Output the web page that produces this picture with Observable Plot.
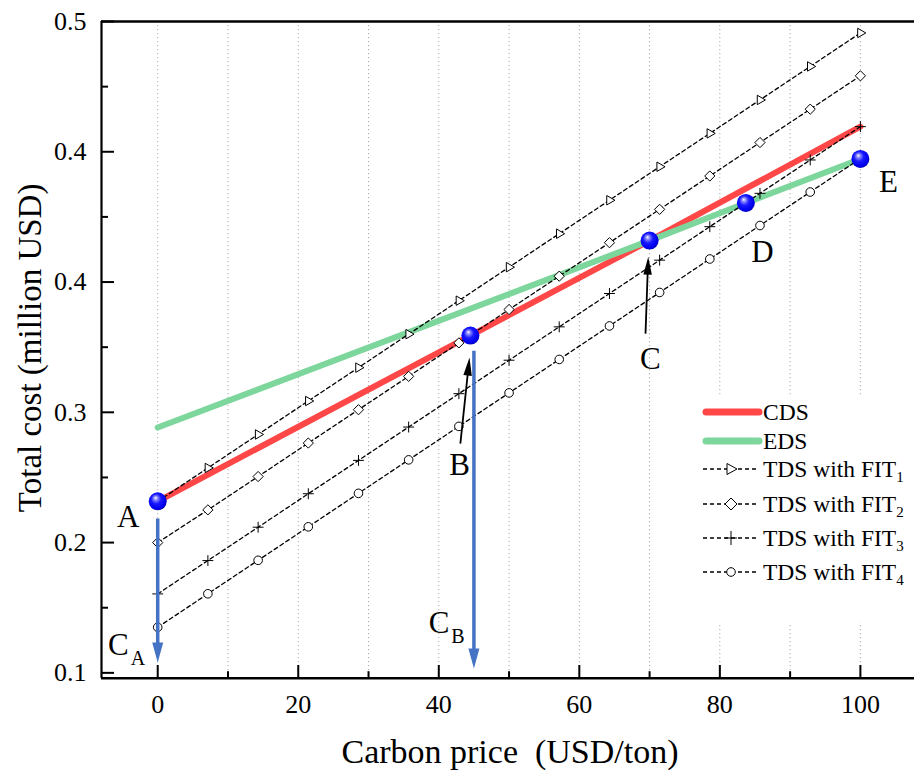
<!DOCTYPE html>
<html>
<head>
<meta charset="utf-8">
<script src="https://cdn.jsdelivr.net/npm/d3@7"></script>
<script src="https://cdn.jsdelivr.net/npm/@observablehq/plot@0.6"></script>
<style>
  html, body { margin: 0; padding: 0; background: #fff; }
  #wrap { position: relative; width: 914px; height: 773px; font-family: "Liberation Serif", "Times New Roman", serif; }
  #legend { position: absolute; left: 695px; top: 396px; width: 216px; height: 226px; background: #fff; }
  .row { position: absolute; left: 0; height: 30px; width: 216px; }
  .row svg { position: absolute; left: 4px; top: 0; }
  .row span { position: absolute; left: 68px; top: 0; line-height: 30px; font-size: 23.5px; color: #000; white-space: nowrap; font-family: "Liberation Serif", serif; }
  .row sub { font-size: 15px; vertical-align: -5px; line-height: 0; }
</style>
</head>
<body>
<div id="wrap"></div>
<script>
// ---------- data ----------
const xTickValues = [0, 20, 40, 60, 80, 100];
const xMinorTicks = [10, 30, 50, 70, 90];
const gridValues = [0, 10, 20, 30, 40, 50, 60, 70, 80, 90, 100];
const yTickValues = [0.1, 0.2, 0.3, 0.4, 0.5, 0.6];
const yTickLabels = ["0.1", "0.2", "0.3", "0.4", "0.4", "0.5"];
const yMinorTicks = [0.15, 0.25, 0.35, 0.45, 0.55];

const cdsX = [0, 44.5, 70, 100];
const cdsY = [0.2317, 0.3589, 0.4318, 0.5193];
const edsX = [0, 70, 83.7, 100];
const edsY = [0.2883, 0.4318, 0.4607, 0.4945];

const tdsX = [0, 7.14, 14.29, 21.43, 28.57, 35.71, 42.86, 50, 57.14, 64.29, 71.43, 78.57, 85.71, 92.86, 100];
const fit1 = [0.2316, 0.2573, 0.2830, 0.3087, 0.3343, 0.3600, 0.3857, 0.4114, 0.4371, 0.4628, 0.4885, 0.5141, 0.5398, 0.5655, 0.5912];
const fit2 = [0.2000, 0.2251, 0.2507, 0.2764, 0.3020, 0.3276, 0.3533, 0.3789, 0.4045, 0.4302, 0.4558, 0.4814, 0.5071, 0.5327, 0.5583];
const fit3 = [0.1606, 0.1862, 0.2118, 0.2375, 0.2631, 0.2887, 0.3143, 0.3400, 0.3656, 0.3912, 0.4168, 0.4425, 0.4681, 0.4937, 0.5193];
const fit4 = [0.1350, 0.1607, 0.1864, 0.2121, 0.2378, 0.2635, 0.2892, 0.3149, 0.3406, 0.3663, 0.3920, 0.4177, 0.4434, 0.4691, 0.4948];

const pointNames = ["A", "B", "C", "D", "E"];
const pointX = [0, 44.5, 70, 83.7, 100];
const pointY = [0.2317, 0.3589, 0.4318, 0.4607, 0.4945];

const labelText = ["A", "B", "C", "D", "E"];
const labelX = [-4.2, 42.95, 70.1, 86.07, 104.0];
const labelY = [0.2196, 0.2595, 0.3408, 0.4229, 0.4767];

const capText = ["C", "C"];
const capX = [-5.6, 40.03];
const capY = [0.1213, 0.1382];
const subText = ["A", "B"];
const subX = [-2.8, 42.73];
const subY = [0.1106, 0.1275];

// arrows: shaft start, shaft end, head tip, head rotation (degrees)
const blueArrowX1 = [0, 45.0];
const blueArrowY1 = [0.2184, 0.3473];
const blueArrowX2 = [0, 45.0];
const blueArrowY2 = [0.1150, 0.1104];
const blueTipY = [0.1079, 0.1033];
const blueTipRotate = [180, 180];

const blackArrowX1 = [43.07, 69.42];
const blackArrowY1 = [0.276, 0.3604];
const blackArrowX2 = [44.25, 69.77];
const blackArrowY2 = [0.3360, 0.4140];
const blackTipX = [44.37, 69.81];
const blackTipY = [0.342, 0.4195];
const blackTipRotate = [6, 2];

const seriesNames = ["CDS", "EDS", "TDS with FIT", "TDS with FIT", "TDS with FIT", "TDS with FIT"];
const seriesSubs = ["", "", "1", "2", "3", "4"];

const xDomain = [-8, 107.7];
const yDomain = [0.0959, 0.6];

// ---------- build tables ----------
const red = "#ff4747", green = "#7dd69c", arrowBlue = "#4472c4";
const cds = cdsX.map((x, i) => ({x, y: cdsY[i]}));
const eds = edsX.map((x, i) => ({x, y: edsY[i]}));
const fits = [fit1, fit2, fit3, fit4].map(arr => tdsX.map((x, i) => ({x, y: arr[i]})));
const pts = pointNames.map((n, i) => ({n, x: pointX[i], y: pointY[i]}));
const labels = labelText.map((t, i) => ({t, x: labelX[i], y: labelY[i]}));
const caps = capText.map((t, i) => ({t, x: capX[i], y: capY[i]}));
const subs = subText.map((t, i) => ({t, x: subX[i], y: subY[i]}));
const blueArrows = blueArrowX1.map((x, i) => ({x1: x, y1: blueArrowY1[i], x2: blueArrowX2[i], y2: blueArrowY2[i],
  tx: blueArrowX2[i], ty: blueTipY[i], rot: blueTipRotate[i]}));
const blackArrows = blackArrowX1.map((x, i) => ({x1: x, y1: blackArrowY1[i], x2: blackArrowX2[i], y2: blackArrowY2[i],
  tx: blackTipX[i], ty: blackTipY[i], rot: blackTipRotate[i]}));

// arrowhead symbols: tip at the anchor point, pointing up before rotation
const headSymbol = (len, wid) => ({
  draw(context) {
    context.moveTo(0, 0);
    context.lineTo(-wid / 2, len);
    context.lineTo(wid / 2, len);
    context.closePath();
  }
});

const symbols = [
  {symbol: "triangle2", r: 4.5, rotate: 90},
  {symbol: "diamond2", r: 4.6, rotate: 0},
  {symbol: "plus", r: 3.6, rotate: 0},
  {symbol: "circle", r: 4.3, rotate: 0}
];

const fitMarks = fits.flatMap((data, k) => [
  Plot.line(data, {x: "x", y: "y", stroke: "black", strokeWidth: 1.3, strokeDasharray: "4,3"}),
  Plot.dot(data, {x: "x", y: "y", symbol: symbols[k].symbol, r: symbols[k].r, rotate: symbols[k].rotate,
    stroke: "black", strokeWidth: 1, fill: k === 2 ? "none" : "white"})
]);

const chart = Plot.plot({
  width: 914,
  height: 773,
  marginLeft: 101,
  marginRight: 0,
  marginTop: 21,
  marginBottom: 95.3,
  style: {fontFamily: "Liberation Serif, Times New Roman, serif", background: "white", color: "black"},
  x: {domain: xDomain},
  y: {domain: yDomain},
  marks: [
    Plot.gridX(gridValues, {stroke: "#aaaaaa", strokeOpacity: 1, strokeWidth: 1, strokeDasharray: "1.2,2.8"}),
    Plot.line(cds, {x: "x", y: "y", stroke: red, strokeWidth: 6}),
    Plot.line(eds, {x: "x", y: "y", stroke: green, strokeWidth: 6}),
    ...fitMarks,
    Plot.link(blueArrows, {x1: "x1", y1: "y1", x2: "x2", y2: "y2", stroke: arrowBlue, strokeWidth: 3.5}),
    Plot.dot(blueArrows, {x: "tx", y: "ty", rotate: "rot", symbol: headSymbol(20, 11), fill: arrowBlue, stroke: "none"}),
    Plot.link(blackArrows, {x1: "x1", y1: "y1", x2: "x2", y2: "y2", stroke: "black", strokeWidth: 1.8}),
    Plot.dot(blackArrows, {x: "tx", y: "ty", rotate: "rot", symbol: headSymbol(18, 8.5), fill: "black", stroke: "none"}),
    Plot.dot(pts, {x: "x", y: "y", r: 9, fill: "url(#ballGrad)", stroke: "none"}),
    Plot.text(labels, {x: "x", y: "y", text: "t", fontSize: 31, fill: "black"}),
    Plot.text(caps, {x: "x", y: "y", text: "t", fontSize: 31, fill: "black"}),
    Plot.text(subs, {x: "x", y: "y", text: "t", fontSize: 20, fill: "black"}),
    // axes
    Plot.axisX({ticks: xTickValues, tickSize: -12.7, tickPadding: 29.5, strokeWidth: 2, fontSize: 26, label: null, tickFormat: d => String(d)}),
    Plot.axisX({ticks: xMinorTicks, tickSize: -6.5, strokeWidth: 2, tickFormat: () => "", label: null}),
    Plot.axisY({ticks: yTickValues, tickSize: -13, tickPadding: 28, strokeWidth: 2, fontSize: 26, label: null,
      tickFormat: (d, i) => yTickLabels[i]}),
    Plot.axisY({ticks: yMinorTicks, tickSize: -7, strokeWidth: 2, tickFormat: () => "", label: null}),
    Plot.ruleY([yDomain[0]], {stroke: "black", strokeWidth: 2.5}),
    Plot.ruleY([yDomain[1]], {stroke: "black", strokeWidth: 2.5}),
    Plot.ruleX([xDomain[0]], {stroke: "black", strokeWidth: 2.2}),
    // titles
    Plot.text(["Carbon price\u00a0 (USD/ton)"], {frameAnchor: "bottom", lineAnchor: "middle", textAnchor: "middle", dy: 74, dx: 2, fontSize: 34, fill: "black"}),
    Plot.text(["Total cost (million USD)"], {frameAnchor: "left", lineAnchor: "middle", textAnchor: "middle", dx: -71, dy: -2, rotate: -90, fontSize: 33, fill: "black"})
  ]
});

// sphere gradient
const svg = d3.select(chart);
const defs = svg.insert("defs", ":first-child");
const g = defs.append("radialGradient").attr("id", "ballGrad")
  .attr("cx", "0.45").attr("cy", "0.45").attr("r", "0.6").attr("fx", "0.38").attr("fy", "0.3");
[["0%", "#ffffff"], ["18%", "#8c8cff"], ["45%", "#1a1aff"], ["80%", "#0000f0"], ["100%", "#0000a8"]]
  .forEach(([o, c]) => g.append("stop").attr("offset", o).attr("stop-color", c));

const wrap = document.getElementById("wrap");
wrap.appendChild(chart);

// legend
const legend = document.createElement("div");
legend.id = "legend";
const rowCenters = [16, 45, 73, 108, 142, 176];
const markerSvg = [
  '<path d="M-4,-5.5L6,0L-4,5.5Z" fill="white" stroke="black" stroke-width="1"/>',
  '<path d="M0,-6L6,0L0,6L-6,0Z" fill="white" stroke="black" stroke-width="1"/>',
  '<path d="M0,-7V7M-6,0H6" stroke="black" stroke-width="1"/>',
  '<circle r="4.3" fill="white" stroke="black" stroke-width="1"/>'
];
seriesNames.forEach((name, i) => {
  const row = document.createElement("div");
  row.className = "row";
  row.style.top = (rowCenters[i] - 15) + "px";
  let sw;
  if (i < 2) {
    const c = i === 0 ? red : green;
    sw = `<svg width="64" height="30"><line x1="7" y1="15" x2="60" y2="15" stroke="${c}" stroke-width="7" stroke-linecap="round"/></svg>`;
  } else {
    sw = `<svg width="64" height="30"><line x1="4" y1="15" x2="60" y2="15" stroke="black" stroke-width="1.3" stroke-dasharray="4,3"/><g transform="translate(32,15)">${markerSvg[i - 2]}</g></svg>`;
  }
  row.innerHTML = sw + `<span>${name}${seriesSubs[i] ? "<sub>" + seriesSubs[i] + "</sub>" : ""}</span>`;
  legend.appendChild(row);
});
wrap.appendChild(legend);
</script>
</body>
</html>
